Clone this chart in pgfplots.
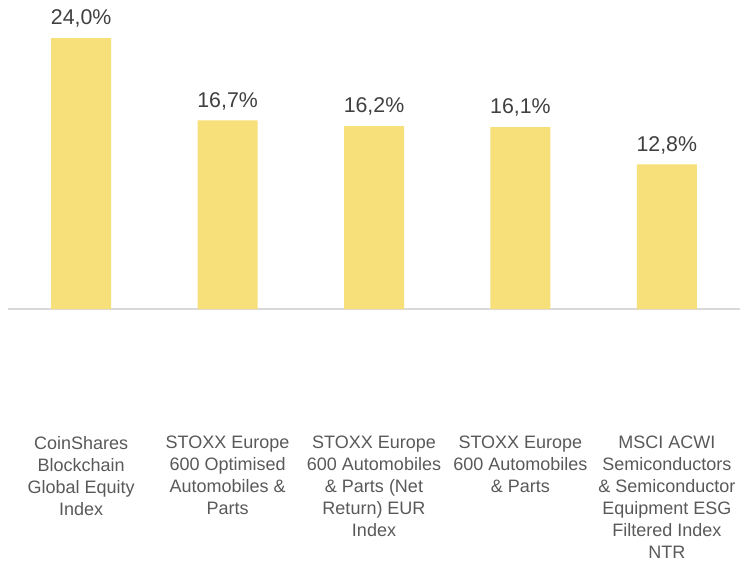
\documentclass[border=0pt]{standalone}
\usepackage{pgfplots}
\pgfplotsset{compat=1.18}
\usepackage{fontspec}
\setmainfont{Liberation Sans}
\definecolor{baryellow}{HTML}{F7DF7A}
\definecolor{axisgray}{HTML}{D9D9D9}
\definecolor{valgray}{HTML}{404040}
\definecolor{labgray}{HTML}{595959}

\begin{document}
\begin{tikzpicture}
\begin{axis}[
    scale only axis,
    width=549pt, height=231.75pt,
    xmin=-0.5, xmax=4.5,
    ymin=0, ymax=27.37,
    axis x line=bottom,
    axis y line=none,
    x axis line style={-, draw=axisgray, line width=1.5pt},
    xtick={0,1,2,3,4},
    major tick length=0pt,
    xticklabels={
        {CoinShares\\Blockchain\\Global Equity\\Index},
        {STOXX Europe\\600 Optimised\\Automobiles \&\\Parts},
        {STOXX Europe\\600 Automobiles\\\& Parts (Net\\Return) EUR\\Index},
        {STOXX Europe\\600 Automobiles\\\& Parts},
        {MSCI ACWI\\Semiconductors\\\& Semiconductor\\Equipment ESG\\Filtered Index\\NTR}
    },
    xticklabel style={align=center, anchor=north, yshift=-92pt,
        font=\fontsize{13.5}{16.5}\selectfont, text=labgray},
    ybar,
    bar width=45pt,
    clip=false,
    nodes near coords={\pgfmathprintnumber[fixed,fixed zerofill,precision=1,use comma]{\pgfplotspointmeta}\%},
    nodes near coords style={font=\fontsize{16}{19}\selectfont, text=valgray, yshift=4.5pt},
    /pgf/number format/assume math mode=true,
]
\addplot[fill=baryellow, draw=none] coordinates {
    (0,24.0) (1,16.7) (2,16.2) (3,16.1) (4,12.8)
};
\end{axis}
\pgfresetboundingbox
\path[use as bounding box] ([xshift=-6pt, yshift=-189.75pt]current axis.south west) rectangle (current axis.north east);
\end{tikzpicture}
\end{document}
